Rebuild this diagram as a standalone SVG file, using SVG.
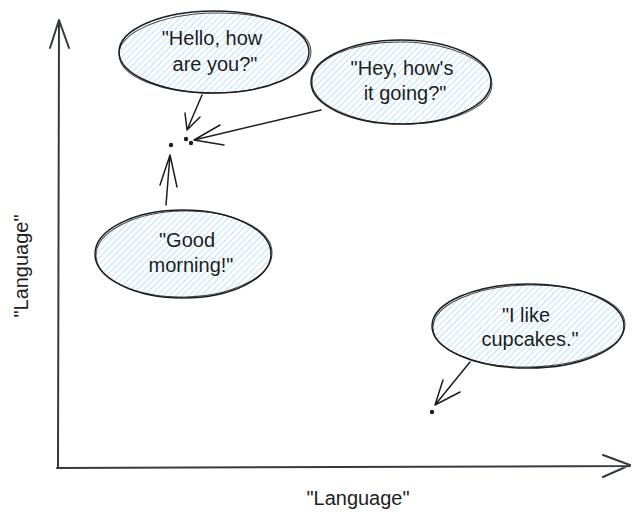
<svg xmlns="http://www.w3.org/2000/svg" width="641" height="525" viewBox="0 0 641 525">
<defs>
<pattern id="hach" patternUnits="userSpaceOnUse" width="4.5" height="4.5" patternTransform="rotate(45)">
<rect width="4.5" height="4.5" fill="#ffffff"/>
<line x1="0" y1="0" x2="0" y2="4.5" stroke="#a5d8ff" stroke-width="1.4"/>
</pattern>
</defs>
<style>
.bub{fill:url(#hach);stroke:#1e1e1e;stroke-width:1.5}
.sk{fill:none;stroke:#1e1e1e;stroke-width:1;opacity:0.8}
.ln{fill:none;stroke:#1e1e1e;stroke-width:1.5;stroke-linecap:round;stroke-linejoin:round}
.ax{fill:none;stroke:#343a40;stroke-width:2;stroke-linecap:round;stroke-linejoin:round}
.t{font-family:"Liberation Sans","DejaVu Sans",sans-serif;font-size:20px;fill:#1e1e1e;text-anchor:middle}
.dot{fill:#1e1e1e}
</style>
<rect width="641" height="525" fill="#ffffff"/>
<g id="axes">
<path class="ax" d="M58,468 L59,21 M50,48 L59,20 L69,48"/>
<path class="ax" d="M57,468 L630,466 M603,455 L630,465 L603,477"/>
</g>
<g id="label-x"><text class="t" x="358" y="505">"Language"</text></g>
<g id="label-y"><text class="t" transform="translate(28,266) rotate(-90)">"Language"</text></g>
<g id="hello">
<ellipse class="bub" cx="214" cy="52" rx="95" ry="41"/>
<ellipse class="sk" cx="215" cy="53" rx="96" ry="40" transform="rotate(-1 215 53)"/>
<text class="t" x="212" y="45">"Hello, how</text>
<text class="t" x="215" y="71">are you?"</text>
</g>
<g id="hey">
<ellipse class="bub" cx="401" cy="82" rx="90" ry="42"/>
<ellipse class="sk" cx="402" cy="83" rx="90" ry="41" transform="rotate(1 402 83)"/>
<text class="t" x="402" y="75">"Hey, how's</text>
<text class="t" x="405" y="100">it going?"</text>
</g>
<g id="good">
<ellipse class="bub" cx="183" cy="254" rx="88" ry="44"/>
<ellipse class="sk" cx="184" cy="254" rx="88" ry="43" transform="rotate(-1 184 254)"/>
<text class="t" x="187" y="247">"Good</text>
<text class="t" x="191" y="272">morning!"</text>
</g>
<g id="cupcakes">
<ellipse class="bub" cx="528" cy="326" rx="96" ry="42"/>
<ellipse class="sk" cx="529" cy="326" rx="96" ry="41" transform="rotate(-1 529 326)"/>
<text class="t" x="526" y="322">"I like</text>
<text class="t" x="530" y="346">cupcakes."</text>
</g>
<g id="dots">
<circle class="dot" cx="171" cy="145" r="2.2"/>
<circle class="dot" cx="186" cy="139" r="2.2"/>
<circle class="dot" cx="191" cy="143" r="2.2"/>
<circle class="dot" cx="432" cy="412" r="2.2"/>
</g>
<g id="connectors">
<path class="ln" d="M202,95 L187,130 M185,113 L187,130 L200,117"/>
<path class="ln" d="M321,110 L194,140 M220,125 L194,140 L224,145"/>
<path class="ln" d="M166,205 L170,155 M160,185 L170,155 L177,187"/>
<path class="ln" d="M470,362 L435,405 M443,380 L435,405 L460,392"/>
</g>
</svg>
